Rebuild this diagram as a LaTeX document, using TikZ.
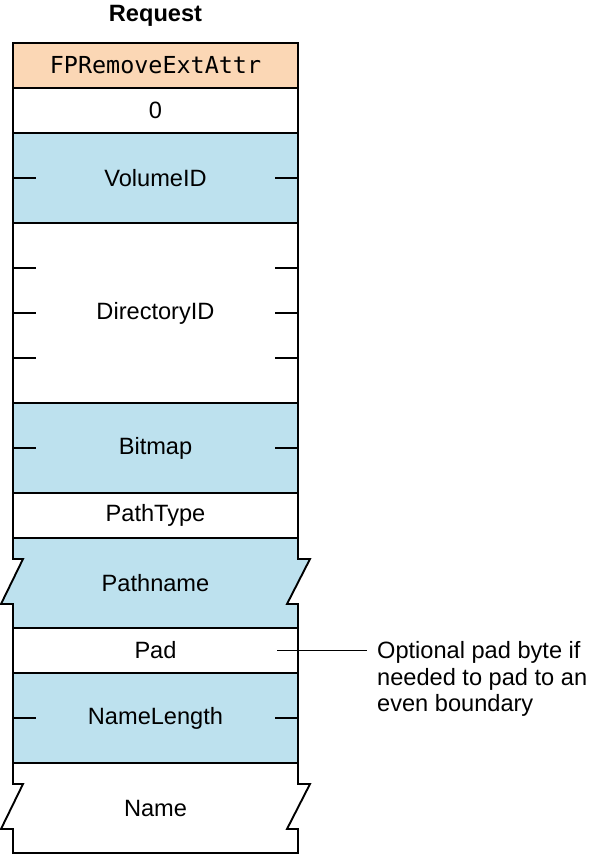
\documentclass[tikz,border=0pt]{standalone}
\usepackage{fontspec}
\setmainfont{Liberation Sans}
\setmonofont{DejaVu Sans Mono}
\usetikzlibrary{calc,chains,positioning,backgrounds}
\definecolor{cmdorange}{HTML}{FBD7B5}
\definecolor{fieldblue}{HTML}{BDE1EE}
\tikzset{field/.style={draw=black, line width=1.9pt, rectangle, minimum width=285pt, minimum height=45pt, inner sep=0pt, outer sep=0pt, fill=white, font=\fontsize{23.6}{26}\selectfont}, wide/.style={field, minimum height=90pt}, broken/.style={wide, draw=none, fill=none}, rule/.style={line width=1.9pt}, start chain=going below, node distance=0pt}
% short marks on both sides of a field
\newcommand{\fieldtick}[2]{\draw[rule] ($(#1.north west)!#2!(#1.south west)$) -- ++(23pt,0); \draw[rule] ($(#1.north east)!#2!(#1.south east)$) -- ++(-23pt,0);}
% outline of a field of variable length
\newcommand{\brokenfield}[2]{\draw[rule, fill=#2] (#1.north west) -- (#1.north east) -- ++(0,-21pt) -- ++(12pt,0) -- ++(-23pt,-45pt) -- ++(11pt,0) -- (#1.south east) -- (#1.south west) -- ++(0,24pt) -- ++(-12pt,0) -- ++(22pt,45pt) -- ++(-10pt,0) -- cycle;}

\begin{document}
\begin{tikzpicture}[x=1pt,y=1pt]
    \useasboundingbox (0,0) rectangle (590,-854);
    \node[field,on chain,fill=cmdorange,font=\fontsize{23.4}{26}\ttfamily] (cmd) at (155.5,-65.5) {FPRemoveExtAttr};
    \node[field,on chain] (zero) {0};
    \node[wide,on chain,fill=fieldblue] (vol) {VolumeID};
    \node[wide,on chain,minimum height=180pt] (dir) {DirectoryID};
    \node[wide,on chain,fill=fieldblue] (bmp) {Bitmap};
    \node[field,on chain] (ptype) {PathType};
    \node[broken,on chain] (pname) {Pathname};
    \node[field,on chain] (pad) {Pad};
    \node[wide,on chain,fill=fieldblue] (nlen) {NameLength};
    \node[broken,on chain] (name) {Name};
    \begin{scope}[on background layer]
        \brokenfield{pname}{fieldblue}
        \brokenfield{name}{white}
    \end{scope}
    \fieldtick{vol}{0.5}
    \fieldtick{dir}{0.25}
    \fieldtick{dir}{0.5}
    \fieldtick{dir}{0.75}
    \fieldtick{bmp}{0.5}
    \fieldtick{nlen}{0.5}
    \node[font=\fontsize{23.6}{26}\selectfont\bfseries, above=13pt of cmd] (req) {Request};
    \coordinate (padtip) at ($(pad.east)+(69pt,0)$);
    \draw[rule] ($(pad.east)+(-21pt,0)$) -- (padtip);
    \node[anchor=north west, align=left, inner sep=0pt, font=\fontsize{23.6}{26.5}\selectfont] (padnote) at ($(padtip)+(10pt,9pt)$) {Optional pad byte if\\needed to pad to an\\even boundary};
\end{tikzpicture}
\end{document}
